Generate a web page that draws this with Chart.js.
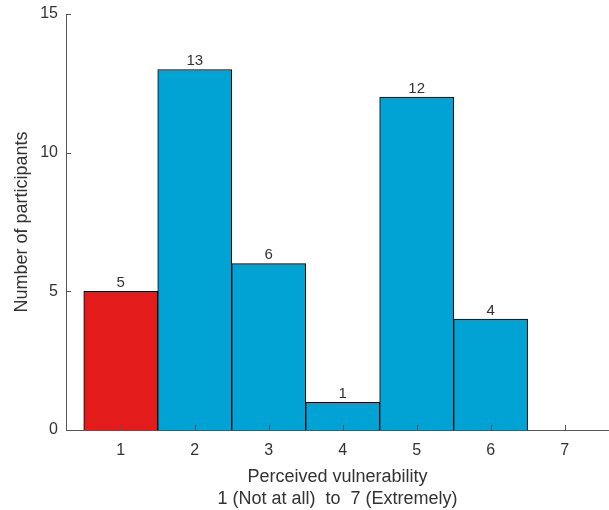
<!DOCTYPE html>
<html lang="en">
<head>
    <meta charset="UTF-8">
    <title>Perceived vulnerability</title>
    <script src="https://cdn.jsdelivr.net/npm/chart.js"></script>
    <style>
        * { margin: 0; padding: 0; }
        body { background: white; width: 609px; height: 510px; overflow: hidden; }
        #wrap { width: 609px; height: 510px; position: relative; }
    </style>
</head>
<body>
    <div id="wrap"><canvas id="chart"></canvas></div>

    <script>
        const categories = [1, 2, 3, 4, 5, 6, 7];
        const participants = [5, 13, 6, 1, 12, 4, 0];
        const yTicks = [0, 5, 10, 15];
        const barColors = ['#e31b1b', '#00a3d4', '#00a3d4', '#00a3d4', '#00a3d4', '#00a3d4', '#00a3d4'];

        const textColor = '#333333';
        const axisColor = '#555555';
        const font = "'Liberation Sans', Arial, sans-serif";

        // MATLAB style inward ticks
        const inwardTicks = {
            id: 'inwardTicks',
            afterDatasetsDraw(chart) {
                const { ctx, chartArea, scales } = chart;
                ctx.save();
                ctx.strokeStyle = axisColor;
                ctx.lineWidth = 1;
                ctx.beginPath();
                categories.forEach(c => {
                    const x = Math.round(scales.x.getPixelForValue(c)) + 0.5;
                    ctx.moveTo(x, chartArea.bottom);
                    ctx.lineTo(x, chartArea.bottom - 5);
                });
                yTicks.forEach(v => {
                    const y = Math.round(scales.y.getPixelForValue(v)) + 0.5;
                    ctx.moveTo(chartArea.left, y);
                    ctx.lineTo(chartArea.left + 5, y);
                });
                ctx.stroke();
                ctx.restore();
            }
        };

        // value labels above bars
        const barLabels = {
            id: 'barLabels',
            afterDatasetsDraw(chart) {
                const { ctx, scales } = chart;
                ctx.save();
                ctx.fillStyle = textColor;
                ctx.font = '15px ' + font;
                ctx.textAlign = 'center';
                ctx.textBaseline = 'bottom';
                participants.forEach((v, i) => {
                    if (v === 0) return;
                    const x = scales.x.getPixelForValue(categories[i]);
                    const y = scales.y.getPixelForValue(v);
                    ctx.fillText(String(v), x, y - 1);
                });
                ctx.restore();
            }
        };

        new Chart(document.getElementById('chart'), {
            type: 'bar',
            data: {
                datasets: [{
                    data: categories.map((c, i) => ({ x: c, y: participants[i] })),
                    backgroundColor: barColors,
                    borderColor: '#000000',
                    borderWidth: 1,
                    barPercentage: 1,
                    categoryPercentage: 1
                }]
            },
            options: {
                responsive: true,
                maintainAspectRatio: false,
                animation: false,
                layout: { padding: { top: 14, right: 0, left: 0, bottom: 0 } },
                plugins: {
                    legend: { display: false },
                    tooltip: { enabled: false }
                },
                scales: {
                    x: {
                        type: 'linear',
                        offset: false,
                        min: 0.26,
                        max: 7.6,
                        afterFit: s => { s.height = 80; s.paddingLeft = 0; s.paddingRight = 0; },
                        afterBuildTicks: s => { s.ticks = categories.map(v => ({ value: v })); },
                        grid: { display: false, drawTicks: false },
                        border: { display: true, color: axisColor, width: 1 },
                        ticks: { padding: 11, color: textColor, font: { family: font, size: 16 } },
                        title: {
                            display: true,
                            text: ['Perceived vulnerability', '1 (Not at all)  to  7 (Extremely)'],
                            color: textColor,
                            font: { family: font, size: 18, lineHeight: '22px' },
                            padding: { top: 0, bottom: 0 }
                        }
                    },
                    y: {
                        min: 0,
                        max: 15,
                        afterFit: s => { s.width = 66; s.paddingTop = 0; s.paddingBottom = 0; },
                        afterBuildTicks: s => { s.ticks = yTicks.map(v => ({ value: v })); },
                        grid: { display: false, drawTicks: false },
                        border: { display: true, color: axisColor, width: 1 },
                        ticks: { padding: 8, color: textColor, font: { family: font, size: 16 } },
                        title: {
                            display: true,
                            text: 'Number of participants',
                            color: textColor,
                            font: { family: font, size: 18, lineHeight: '20px' },
                            padding: { top: 12, bottom: 0 }
                        }
                    }
                }
            },
            plugins: [inwardTicks, barLabels]
        });
    </script>
</body>
</html>
